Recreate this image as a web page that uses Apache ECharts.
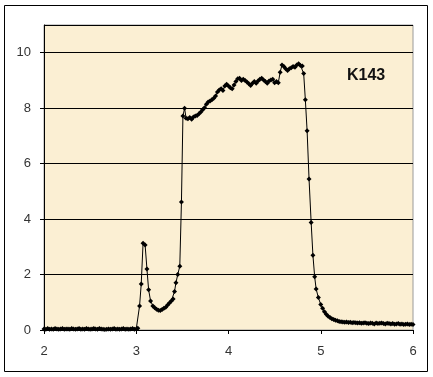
<!DOCTYPE html>
<html>
<head>
<meta charset="utf-8">
<script src="https://cdn.jsdelivr.net/npm/echarts@6/dist/echarts.min.js"></script>
<style>
  html, body { margin: 0; padding: 0; background: #fff; }
  #chart { width: 433px; height: 377px; }
</style>
</head>
<body>
<div id="chart"></div>
<script>
// sample label
const seriesName = 'K143';

// x positions of the samples
const xValues = [
  2.00, 2.02, 2.04, 2.06, 2.08, 2.10, 2.12, 2.14, 2.16, 2.18,
  2.20, 2.22, 2.24, 2.26, 2.28, 2.30, 2.32, 2.34, 2.36, 2.38,
  2.40, 2.42, 2.44, 2.46, 2.48, 2.50, 2.52, 2.54, 2.56, 2.58,
  2.60, 2.62, 2.64, 2.66, 2.68, 2.70, 2.72, 2.74, 2.76, 2.78,
  2.80, 2.82, 2.84, 2.86, 2.88, 2.90, 2.92, 2.94, 2.96, 2.98,
  3.00, 3.017, 3.036, 3.054, 3.074, 3.096, 3.116, 3.134, 3.155, 3.18,
  3.20, 3.22, 3.24, 3.26, 3.28, 3.30, 3.32, 3.34, 3.36, 3.38,
  3.40, 3.415, 3.43, 3.45, 3.472, 3.49, 3.506, 3.524, 3.54, 3.56,
  3.58, 3.60, 3.62, 3.64, 3.66, 3.68, 3.70, 3.72, 3.74, 3.76,
  3.78, 3.80, 3.82, 3.84, 3.86, 3.88, 3.90, 3.92, 3.94, 3.96,
  3.98, 4.00, 4.02, 4.04, 4.06, 4.08, 4.10, 4.12, 4.14, 4.16,
  4.18, 4.20, 4.22, 4.24, 4.26, 4.28, 4.30, 4.32, 4.34, 4.36,
  4.38, 4.40, 4.42, 4.44, 4.46, 4.48, 4.50, 4.52, 4.54, 4.56,
  4.58, 4.60, 4.62, 4.64, 4.66, 4.68, 4.70, 4.72, 4.74, 4.76,
  4.78, 4.80, 4.815, 4.833, 4.852, 4.873, 4.896, 4.915, 4.934, 4.95,
  4.974, 5.00, 5.02, 5.04, 5.06, 5.08, 5.10, 5.12, 5.14, 5.16,
  5.18, 5.20, 5.22, 5.24, 5.26, 5.28, 5.30, 5.32, 5.34, 5.36,
  5.38, 5.40, 5.42, 5.44, 5.46, 5.48, 5.50, 5.52, 5.54, 5.56,
  5.58, 5.60, 5.62, 5.64, 5.66, 5.68, 5.70, 5.72, 5.74, 5.76,
  5.78, 5.80, 5.82, 5.84, 5.86, 5.88, 5.90, 5.92, 5.94, 5.96,
  5.98, 6.00
];

// measured values at those positions
const yValues = [
  0.04, 0.03, 0.05, 0.03, 0.04, 0.03, 0.05, 0.04, 0.03, 0.04,
  0.05, 0.03, 0.04, 0.04, 0.03, 0.05, 0.04, 0.03, 0.04, 0.05,
  0.03, 0.04, 0.03, 0.05, 0.04, 0.03, 0.04, 0.05, 0.04, 0.03,
  0.05, 0.04, 0.03, 0.02, 0.03, 0.04, 0.03, 0.04, 0.05, 0.03,
  0.04, 0.03, 0.04, 0.05, 0.03, 0.04, 0.03, 0.04, 0.05, 0.03,
  0.04, 0.06, 0.87, 1.66, 3.13, 3.07, 2.20, 1.45, 1.05, 0.87,
  0.80, 0.75, 0.71, 0.70, 0.74, 0.78, 0.82, 0.90, 0.97, 1.05,
  1.12, 1.39, 1.70, 2.00, 2.30, 4.62, 7.72, 8.00, 7.64, 7.62,
  7.66, 7.60, 7.68, 7.72, 7.74, 7.80, 7.86, 7.94, 8.02, 8.14,
  8.22, 8.26, 8.30, 8.36, 8.44, 8.58, 8.66, 8.70, 8.64, 8.80,
  8.86, 8.80, 8.74, 8.70, 8.84, 8.96, 9.06, 9.08, 9.00, 9.04,
  9.00, 8.94, 8.88, 8.82, 8.90, 8.96, 8.90, 8.98, 9.04, 9.08,
  9.02, 8.96, 8.90, 8.98, 9.02, 9.04, 8.92, 8.96, 8.92, 9.30,
  9.56, 9.50, 9.42, 9.36, 9.42, 9.46, 9.50, 9.48, 9.56, 9.60,
  9.54, 9.52, 9.25, 8.30, 7.19, 5.45, 3.88, 2.70, 1.92, 1.48,
  1.17, 0.92, 0.78, 0.66, 0.57, 0.50, 0.45, 0.41, 0.38, 0.35,
  0.33, 0.31, 0.30, 0.29, 0.28, 0.29, 0.27, 0.28, 0.26, 0.27,
  0.26, 0.25, 0.26, 0.24, 0.25, 0.26, 0.24, 0.23, 0.25, 0.24,
  0.22, 0.25, 0.23, 0.24, 0.25, 0.23, 0.22, 0.24, 0.23, 0.22,
  0.23, 0.21, 0.22, 0.23, 0.21, 0.22, 0.20, 0.21, 0.22, 0.20,
  0.21, 0.20
];

const chart = echarts.init(document.getElementById('chart'));

const option = {
  animation: false,
  backgroundColor: '#ffffff',
  textStyle: { fontFamily: 'Liberation Sans, Arial, sans-serif' },
  title: {
    text: seriesName,
    left: 342,
    top: 63,
    textStyle: { fontSize: 16, fontWeight: 'bold', color: '#111', fontFamily: 'Liberation Sans, Arial, sans-serif' }
  },
  graphic: [
    {
      type: 'rect',
      shape: { x: 4.5, y: 5.5, width: 423, height: 366 },
      style: { fill: 'none', stroke: '#000', lineWidth: 1 },
      z: 100
    }
  ],
  grid: {
    left: 44,
    right: 20,
    top: 25,
    bottom: 47,
    show: true,
    backgroundColor: '#fbefd3',
    borderColor: '#9a9a9a',
    borderWidth: 1
  },
  xAxis: {
    type: 'value',
    min: 2,
    max: 6,
    interval: 1,
    axisLine: { onZero: false, lineStyle: { color: '#000', width: 1 } },
    axisTick: { show: true, inside: false, length: 4, lineStyle: { color: '#000' } },
    axisLabel: { color: '#333', fontSize: 13, margin: 15 },
    splitLine: { show: false }
  },
  yAxis: {
    type: 'value',
    min: 0,
    max: 11,
    interval: 2,
    axisLine: { show: true, lineStyle: { color: '#000', width: 1 } },
    axisTick: { show: true, inside: false, length: 4, lineStyle: { color: '#000' } },
    axisLabel: { color: '#333', fontSize: 13, margin: 13, showMaxLabel: false },
    splitLine: { show: true, lineStyle: { color: '#000', width: 1 } }
  },
  series: [
    {
      name: seriesName,
      type: 'line',
      data: xValues.map((x, i) => [x, yValues[i]]),
      symbol: 'diamond',
      symbolSize: 5,
      showAllSymbol: true,
      itemStyle: { color: '#000' },
      lineStyle: { color: '#000', width: 1 },
      z: 5
    }
  ]
};

chart.setOption(option);
</script>
</body>
</html>
